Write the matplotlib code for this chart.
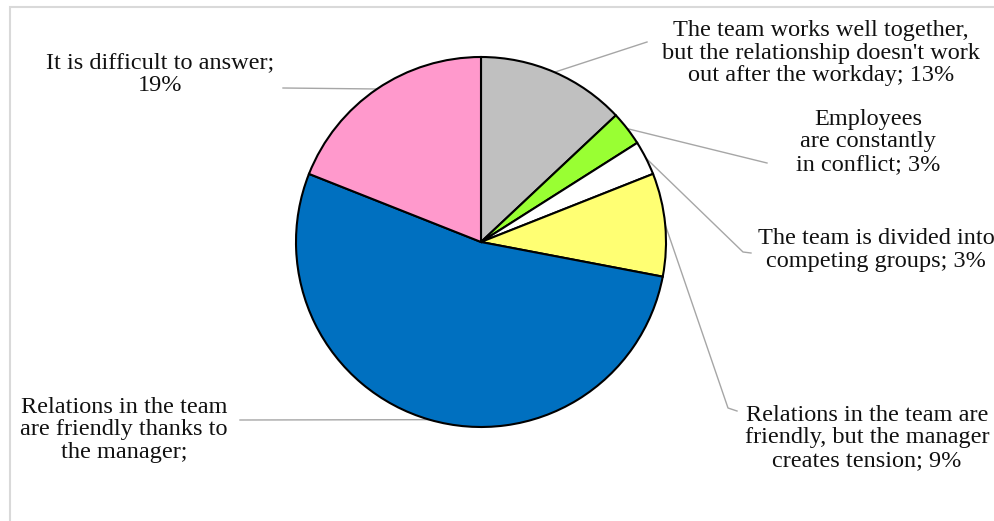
import numpy as np
import matplotlib
matplotlib.use("Agg")
import matplotlib.pyplot as plt
from matplotlib.patches import Rectangle

# данные диаграммы (по часовой стрелке от верха)
labels = [
    "The team works well together,\nbut the relationship doesn't work\nout after the workday; 13%",
    "Employees\nare constantly\nin conflict; 3%",
    "The team is divided into\ncompeting groups; 3%",
    "Relations in the team are\nfriendly, but the manager\ncreates tension; 9%",
    "Relations in the team\nare friendly thanks to\nthe manager;",
    "It is difficult to answer;\n19%",
]
shares = [13, 3, 3, 9, 53, 19]
colors = ["#C0C0C0", "#99FF33", "#FFFFFF", "#FFFF73", "#0070C0", "#FF99CC"]

# положения подписей в пикселях (x, y сверху) и концы выносок
label_pos = [(821, 53), (868, 142), (876, 250), (867, 438), (124, 430), (160, 74)]
line_end = [(647, 42), (767, 163), (751, 253), (737, 411), (240, 420), (283, 88)]
line_knee = [None, None, (743, 252), (728, 408), None, None]

W, H = 994, 521
cx, cy, R = 481, 242, 185

plt.rcParams['font.family'] = ['Liberation Serif', 'DejaVu Serif']

fig = plt.figure(figsize=(W / 100, H / 100), dpi=100)
ax = fig.add_axes([0, 0, 1, 1])
ax.set_xlim(0, W)
ax.set_ylim(0, H)
ax.set_aspect('equal')
ax.axis('off')

wedges, _ = ax.pie(shares, colors=colors, startangle=90, counterclock=False,
                   center=(cx, H - cy), radius=R,
                   wedgeprops=dict(edgecolor='black', linewidth=1.5))
ax.set_xlim(0, W)
ax.set_ylim(0, H)

for w, lab, (tx, ty), (ex, ey), knee in zip(wedges, labels, label_pos, line_end, line_knee):
    mid = np.deg2rad((w.theta1 + w.theta2) / 2)
    sx = cx + R * np.cos(mid)
    sy = (H - cy) + R * np.sin(mid)
    xs = [sx]
    ys = [sy]
    if knee is not None:
        xs.append(knee[0])
        ys.append(H - knee[1])
    xs.append(ex)
    ys.append(H - ey)
    ax.plot(xs, ys, color='#A6A6A6', lw=1, zorder=0)
    ax.text(tx, H - ty, lab, ha='center', va='center', fontsize=17.5,
            color='#111111', linespacing=1.1)

# рамка (видны только верх и левый край)
fig.patches.append(Rectangle((10 / W, -0.1), 1.2, (H - 7) / H + 0.1,
                             transform=fig.transFigure, fill=False,
                             edgecolor='#D9D9D9', lw=1.5))

fig.savefig('out.png', dpi=100)
